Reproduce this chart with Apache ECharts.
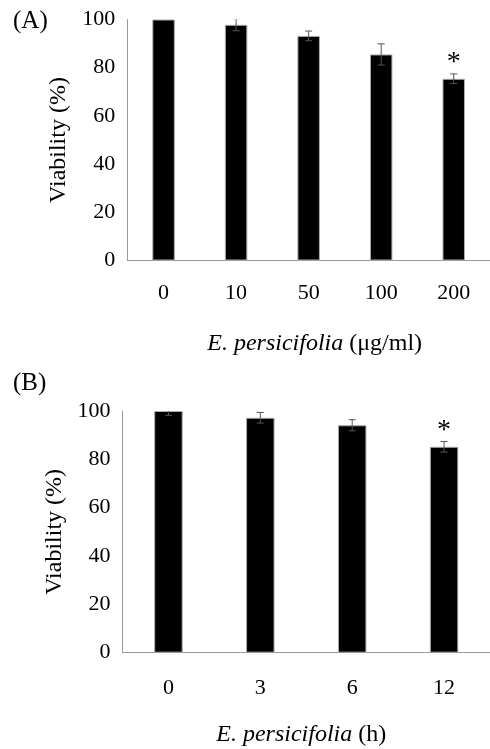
<!DOCTYPE html>
<html>
<head>
<meta charset="utf-8">
<script src="https://cdn.jsdelivr.net/npm/echarts@6/dist/echarts.min.js"></script>
<style>
html,body{margin:0;padding:0;background:#fff;}
#c{width:490px;height:749px;}
</style>
</head>
<body>
<div id="c"></div>
<script>
// Panel A: concentration
var catA = ['0', '10', '50', '100', '200'];
var valA = [100, 97.8, 93.2, 85.5, 75.4];
var errA = [0, 2.5, 2.0, 4.4, 2.0];
var sigA = [false, false, false, false, true];
// Panel B: time
var catB = ['0', '3', '6', '12'];
var valB = [100, 97.2, 94.1, 85.2];
var errB = [1.8, 2.2, 2.3, 2.2];
var sigB = [false, false, false, true];
var yTicks = [0, 20, 40, 60, 80, 100];

var FONT = '"Liberation Serif", "Times New Roman", serif';
var chart = echarts.init(document.getElementById('c'), null, {renderer: 'canvas'});

function errItem(vals, errs, sigs) {
  return function (params, api) {
    var i = api.value(0);
    var v = vals[i], e = errs[i];
    var top = api.coord([i, v + e]);
    var bot = api.coord([i, v - e]);
    var children = [];
    var col = '#555';
    if (e > 0) {
      children.push({type: 'line', shape: {x1: top[0], y1: top[1], x2: bot[0], y2: bot[1]}, style: {stroke: col, lineWidth: 1}});
      children.push({type: 'line', shape: {x1: top[0] - 3.5, y1: top[1], x2: top[0] + 3.5, y2: top[1]}, style: {stroke: col, lineWidth: 1}});
      children.push({type: 'line', shape: {x1: bot[0] - 3.5, y1: bot[1], x2: bot[0] + 3.5, y2: bot[1]}, style: {stroke: col, lineWidth: 1}});
    }
    return {type: 'group', children: children};
  };
}
function sigItem(vals, errs, sigs) {
  return function (params, api) {
    var i = api.value(0);
    if (!sigs[i]) return null;
    var top = api.coord([i, vals[i] + errs[i]]);
    return {type: 'text', style: {text: '*', x: top[0], y: top[1] - 11, align: 'center', verticalAlign: 'middle', font: '28px ' + FONT, fill: '#000'}};
  };
}
function idx(arr) { return arr.map(function (_, i) { return [i]; }); }

var yAxisBase = function (gi, gap) {
  return {
    type: 'value', gridIndex: gi, min: 0, max: 100, interval: 20,
    splitLine: {show: false}, axisTick: {show: false},
    axisLine: {show: true, lineStyle: {color: '#9a9a9a', width: 1}},
    axisLabel: {color: '#000', fontFamily: FONT, fontSize: 22, margin: 12,
      formatter: function (v) { return yTicks.indexOf(v) >= 0 ? String(v) : ''; }},
    name: 'Viability (%)', nameLocation: 'middle', nameGap: gap,
    nameTextStyle: {color: '#000', fontFamily: FONT, fontSize: 24}
  };
};
var xAxisBase = function (gi, cats, margin, gap, unit, pad) {
  return {
    type: 'category', gridIndex: gi, data: cats,
    axisTick: {show: false},
    axisLine: {show: true, lineStyle: {color: '#9a9a9a', width: 1}},
    axisLabel: {color: '#000', fontFamily: FONT, fontSize: 22, margin: margin},
    name: '{i|E. persicifolia} ' + unit, nameLocation: 'middle', nameGap: gap,
    nameTextStyle: {color: '#000', fontFamily: FONT, fontSize: 24, padding: pad,
      rich: {i: {fontStyle: 'italic', fontFamily: FONT, fontSize: 24, color: '#000'}}}
  };
};

chart.setOption({
  animation: false,
  backgroundColor: '#fff',
  graphic: [
    {type: 'text', left: 13, top: 9, style: {text: '(A)', font: '25px ' + FONT, fill: '#000'}},
    {type: 'text', left: 13, top: 371, style: {text: '(B)', font: '25px ' + FONT, fill: '#000'}}
  ],
  grid: [
    {left: 127.3, top: 19.5, width: 367.5, height: 241},
    {left: 122.5, top: 411, width: 368.4, height: 241.7}
  ],
  xAxis: [
    xAxisBase(0, catA, 22, 71, '(μg/ml)', [0, 0, 0, 12]),
    xAxisBase(1, catB, 25, 70, '(h)', [0, 10, 0, 0])
  ],
  yAxis: [yAxisBase(0, 57), yAxisBase(1, 53)],
  series: [
    {type: 'bar', xAxisIndex: 0, yAxisIndex: 0, data: valA, barWidth: '31%',
      itemStyle: {color: '#000', borderColor: '#aaa', borderWidth: 1}},
    {type: 'custom', xAxisIndex: 0, yAxisIndex: 0, data: idx(catA), clip: true,
      renderItem: errItem(valA, errA, sigA), z: 5},
    {type: 'custom', xAxisIndex: 0, yAxisIndex: 0, data: idx(catA), clip: false,
      renderItem: sigItem(valA, errA, sigA), z: 5},
    {type: 'bar', xAxisIndex: 1, yAxisIndex: 1, data: valB, barWidth: '31%',
      itemStyle: {color: '#000', borderColor: '#aaa', borderWidth: 1}},
    {type: 'custom', xAxisIndex: 1, yAxisIndex: 1, data: idx(catB), clip: true,
      renderItem: errItem(valB, errB, sigB), z: 5},
    {type: 'custom', xAxisIndex: 1, yAxisIndex: 1, data: idx(catB), clip: false,
      renderItem: sigItem(valB, errB, sigB), z: 5}
  ]
});
</script>
</body>
</html>
